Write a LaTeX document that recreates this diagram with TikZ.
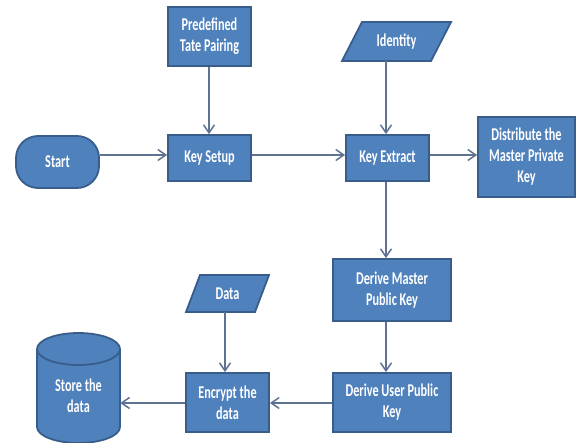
\documentclass[tikz,border=0pt]{standalone}
\usepackage{fontspec}
\newfontfamily\lbl{Carlito}[FakeStretch=0.68]
\usetikzlibrary{arrows.meta}
\definecolor{fillc}{HTML}{4F81BD}
\definecolor{bdr}{HTML}{385D8A}
\definecolor{arrc}{HTML}{5E7391}
\begin{document}
\begin{tikzpicture}[x=1pt,y=-1pt,
  lab/.style={text=white,font=\lbl\bfseries\fontsize{18}{21}\selectfont,align=center,inner sep=0pt},
  box/.style={lab,draw=bdr,line width=1.8pt,fill=fillc},
  shp/.style={draw=bdr,line width=1.8pt,fill=fillc},
  arr/.style={draw=arrc,line width=1.5pt,-{Straight Barb[length=8pt,width=11pt,line width=1.5pt]}}]
\useasboundingbox (0,0) rectangle (577,443);
% boxes
\node[box,minimum width=83,minimum height=59] (pre) at (209.5,36.5) {Predefined\\Tate Pairing};
\node[box,minimum width=83,minimum height=46] (ks) at (209.5,158) {Key Setup};
\node[box,rounded corners=22pt,minimum width=83,minimum height=52] (start) at (57.5,162) {Start};
\node[box,minimum width=83,minimum height=46] (ke) at (387.5,158) {Key Extract};
\node[box,minimum width=97,minimum height=80] (dist) at (526.5,157) {Distribute the\\Master Private\\Key};
\node[box,minimum width=118,minimum height=62] (dm) at (392,290) {Derive Master\\Public Key};
\node[box,minimum width=118,minimum height=59] (du) at (392,402.5) {Derive User Public\\Key};
\node[box,minimum width=83,minimum height=59] (enc) at (227.5,402.5) {Encrypt the\\data};
% parallelograms
\path[shp] (342,61) -- (362,22) -- (451,22) -- (431,61) -- cycle;
\node[lab,minimum width=89,minimum height=39] (id) at (396.5,41.5) {Identity};
\path[shp] (186,312) -- (200,275) -- (269,275) -- (255,312) -- cycle;
\node[lab,minimum width=69,minimum height=37] (data) at (227.5,293.5) {Data};
% cylinder
\path[shp] (78.5,427) ellipse [x radius=41.5pt,y radius=16pt];
\fill[fillc] (37,349) rectangle (120,427);
\draw[bdr,line width=1.8pt] (37,349) -- (37,427) (120,349) -- (120,427);
\path[shp] (78.5,349) ellipse [x radius=41.5pt,y radius=16pt];
\node[lab,minimum width=83,minimum height=94] (store) at (78.5,396) {Store the\\data};
% connector rows
\coordinate (r1) at (0,155);
\coordinate (r2) at (0,403);
\coordinate (c1) at (386,0);
\coordinate (c2) at (209,0);
\coordinate (c3) at (225,0);
\draw[arr] (pre.south -| c2) -- (ks.north -| c2);
\draw[arr] (start.east |- r1) -- (ks.west |- r1);
\draw[arr] (ks.east |- r1) -- (ke.west |- r1);
\draw[arr] (id.south -| c1) -- (ke.north -| c1);
\draw[arr] (ke.east |- r1) -- (dist.west |- r1);
\draw[arr] (ke.south -| c1) -- (dm.north -| c1);
\draw[arr] (dm.south -| c1) -- (du.north -| c1);
\draw[arr] (du.west |- r2) -- (enc.east |- r2);
\draw[arr] (data.south -| c3) -- (enc.north -| c3);
\draw[arr] (enc.west |- r2) -- (store.east |- r2);
\end{tikzpicture}
\end{document}
